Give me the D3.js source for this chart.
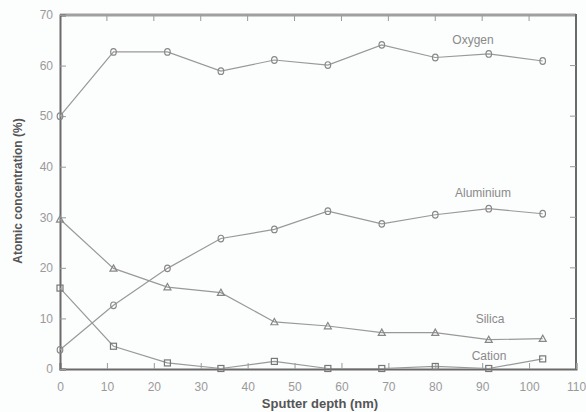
<!DOCTYPE html>
<html><head><meta charset="utf-8">
<script src="https://cdn.jsdelivr.net/npm/d3@7"></script>
<style>body{margin:0;background:#fcfdfd}svg{display:block}</style>
</head><body>
<svg id="c" width="586" height="412"></svg>
<script>
const depths = [0, 11.4, 22.9, 34.3, 45.7, 57.1, 68.6, 80, 91.4, 102.9];
const oxygen = [50, 62.7, 62.7, 58.9, 61.1, 60.1, 64.1, 61.6, 62.3, 60.9];
const aluminium = [3.8, 12.6, 19.9, 25.8, 27.6, 31.2, 28.7, 30.5, 31.7, 30.7];
const silica = [29.6, 19.9, 16.2, 15.1, 9.3, 8.5, 7.2, 7.2, 5.8, 6.0];
const cation = [16, 4.5, 1.2, 0.1, 1.5, 0.1, 0.1, 0.5, 0.1, 2.0];
const xTicks = [0,10,20,30,40,50,60,70,80,90,100,110];
const yTicks = [0,10,20,30,40,50,60,70];

const svg = d3.select("#c");
const x = d3.scaleLinear().domain([0,110]).range([60,576]);
const y = d3.scaleLinear().domain([0,70]).range([369,15]);
const axisCol = "#6a6a6a", tickTxt = "#9a9a9a", lineCol = "#999";

// box
svg.append("line").attr("x1",60).attr("x2",576).attr("y1",15).attr("y2",15).attr("stroke","#a0a0a0").attr("stroke-width",3);
svg.append("line").attr("x1",576).attr("x2",576).attr("y1",14).attr("y2",369).attr("stroke",axisCol).attr("stroke-width",2);

const gx = svg.append("g").attr("transform","translate(0,369)")
  .call(d3.axisBottom(x).tickValues(xTicks).tickSize(-6).tickPadding(13).tickFormat(d3.format("d")));
const gy = svg.append("g").attr("transform","translate(60,0)")
  .call(d3.axisLeft(y).tickValues(yTicks).tickSize(-6).tickPadding(7).tickFormat(d3.format("d")));
[gx,gy].forEach(g=>{
  g.select(".domain").attr("stroke",axisCol).attr("stroke-width",2);
  g.selectAll(".tick line").attr("stroke","#999");
  g.selectAll(".tick text").attr("fill",tickTxt).attr("font-family","Liberation Sans, Arial, sans-serif").attr("font-size",12);
});
// top & right ticks
svg.append("g").selectAll("line").data(xTicks.slice(1,-1)).join("line")
  .attr("x1",d=>x(d)).attr("x2",d=>x(d)).attr("y1",15).attr("y2",21).attr("stroke","#999");
svg.append("g").selectAll("line").data(yTicks.slice(1,-1)).join("line")
  .attr("x1",570).attr("x2",576).attr("y1",d=>y(d)).attr("y2",d=>y(d)).attr("stroke","#999");

const line = d3.line().x(d=>x(d[0])).y(d=>y(d[1]));
const series = [
  {v:oxygen, m:"circle"},
  {v:aluminium, m:"circle"},
  {v:silica, m:"triangle"},
  {v:cation, m:"square"}
];
series.forEach(s=>{
  const pts = depths.map((d,i)=>[d,s.v[i]]);
  svg.append("path").attr("d",line(pts)).attr("fill","none").attr("stroke",lineCol).attr("stroke-width",1.2);
  const g = svg.append("g");
  pts.forEach(p=>{
    const cx=x(p[0]), cy=y(p[1]);
    if(s.m==="circle") g.append("ellipse").attr("cx",cx).attr("cy",cy).attr("rx",2.8).attr("ry",3.3).attr("fill","none").attr("stroke","#888").attr("stroke-width",1.2);
    else if(s.m==="triangle") g.append("path").attr("d",`M${cx},${cy-3.5}L${cx+3.5},${cy+2.8}L${cx-3.5},${cy+2.8}Z`).attr("fill","none").attr("stroke","#888").attr("stroke-width",1.2);
    else g.append("rect").attr("x",cx-3).attr("y",cy-3).attr("width",6).attr("height",6).attr("fill","none").attr("stroke","#777").attr("stroke-width",1.2);
  });
});

const lab = (t,xx,yy)=>svg.append("text").attr("x",xx).attr("y",yy).attr("text-anchor","middle")
  .attr("font-family","Liberation Sans, Arial, sans-serif").attr("font-size",12).attr("fill","#8a8a8a").text(t);
lab("Oxygen",473,44);
lab("Aluminium",483,197);
lab("Silica",490,323);
lab("Cation",489,360);

svg.append("text").attr("x",320).attr("y",408).attr("text-anchor","middle")
  .attr("font-family","Liberation Sans, Arial, sans-serif").attr("font-size",13).attr("font-weight","bold").attr("fill","#555").text("Sputter depth (nm)");
svg.append("text").attr("transform","translate(22,191) rotate(-90)").attr("text-anchor","middle")
  .attr("font-family","Liberation Sans, Arial, sans-serif").attr("font-size",12).attr("font-weight","bold").attr("fill","#555").text("Atomic concentration (%)");
</script>
</body></html>
